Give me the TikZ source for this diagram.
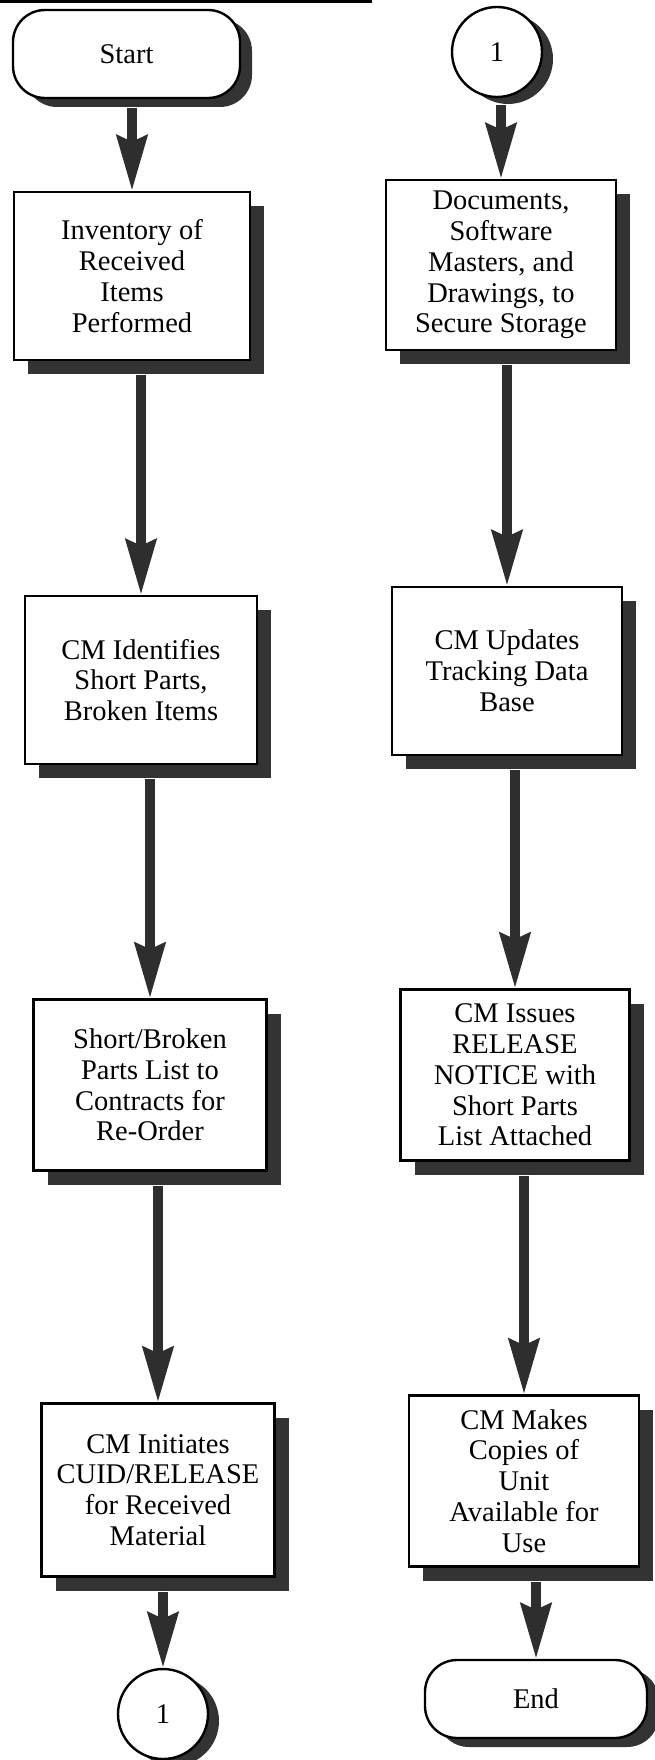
\documentclass[tikz,border=0pt]{standalone}
\usepackage{fontspec}
\setmainfont{Liberation Serif}
\usetikzlibrary{arrows.meta,shadows}
\begin{document}
\begin{tikzpicture}[x=1pt,y=1pt,
  txt/.style={font=\fontsize{28.5}{30.8}\selectfont},
  shad/.style={drop shadow={shadow xshift=14pt,shadow yshift=-14pt,fill=black!80,opacity=1}},
  procbox/.style={draw,line width=2.4pt,fill=white,align=center,inner sep=0pt,shad,txt},
  termbox/.style={draw,line width=2.4pt,fill=white,rounded corners=32pt,inner sep=0pt,txt,
    drop shadow={shadow xshift=12pt,shadow yshift=-9pt,fill=black!80,opacity=1}},
  connbox/.style={circle,draw,line width=2.4pt,fill=white,minimum size=90pt,inner sep=0pt,txt,
    drop shadow={shadow xshift=11pt,shadow yshift=-7pt,fill=black!80,opacity=1}},
  flow/.style={line width=10pt,draw=black!82,-{Stealth[length=55pt,width=30pt,inset=6pt]}}
]
\useasboundingbox (0,0) rectangle (655,-1760);
\coordinate (rulel) at (0,-2);
\coordinate (ruler) at (372,-2);
\draw[line width=3pt] (rulel) -- (ruler);

% left column
\node[termbox,minimum width=227pt,minimum height=88pt] (start) at (126.5,-54) {Start};
\node[procbox,minimum width=236pt,minimum height=168pt] (inv) at (132,-276)
  {Inventory of\\Received\\Items\\Performed};
\node[procbox,minimum width=232pt,minimum height=168pt] (cmid) at (141,-680)
  {CM Identifies\\Short Parts,\\Broken Items};
\node[procbox,minimum width=233pt,minimum height=171pt] (short) at (150,-1085)
  {Short/Broken\\Parts List to\\Contracts for\\Re-Order};
\node[procbox,minimum width=233pt,minimum height=173pt] (init) at (158,-1490)
  {CM Initiates\\CUID/RELEASE\\for Received\\Material};
\node[connbox] (offa) at (163,-1714) {1};

% right column
\node[connbox] (offb) at (497,-52) {1};
\node[procbox,minimum width=230pt,minimum height=170pt] (docs) at (501,-265)
  {Documents,\\Software\\Masters, and\\Drawings, to\\Secure Storage};
\node[procbox,minimum width=230pt,minimum height=168pt] (upd) at (507,-671)
  {CM Updates\\Tracking Data\\Base};
\node[procbox,minimum width=229pt,minimum height=171pt] (iss) at (515,-1075)
  {CM Issues\\RELEASE\\NOTICE with\\Short Parts\\List Attached};
\node[procbox,minimum width=230pt,minimum height=171pt] (makes) at (524,-1481)
  {CM Makes\\Copies of\\Unit\\Available for\\Use};
\node[termbox,minimum width=222pt,minimum height=78pt] (end) at (536,-1699) {End};

% connectors
\draw[flow] ([yshift=-9pt]start.south -| inv.north) -- (inv.north);
\draw[flow] ([yshift=-14pt]inv.south -| cmid.north) -- (cmid.north);
\draw[flow] ([yshift=-14pt]cmid.south -| short.north) -- (short.north);
\draw[flow] ([yshift=-14pt]short.south -| init.north) -- (init.north);
\draw[flow] ([yshift=-14pt]init.south -| offa.north) -- (offa.north);

\draw[flow] ([yshift=-7pt]offb.south -| docs.north) -- (docs.north);
\draw[flow] ([yshift=-14pt]docs.south -| upd.north) -- (upd.north);
\draw[flow] ([yshift=-14pt]upd.south -| iss.north) -- (iss.north);
\draw[flow] ([yshift=-14pt]iss.south -| makes.north) -- (makes.north);
\draw[flow] ([yshift=-14pt]makes.south -| end.north) -- (end.north);
\end{tikzpicture}
\end{document}
